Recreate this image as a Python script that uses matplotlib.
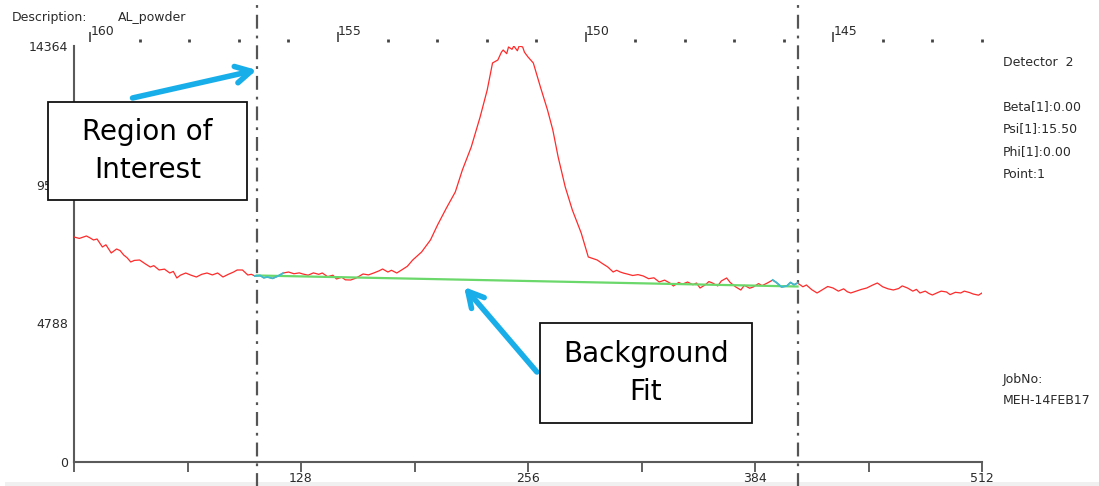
import numpy as np
import matplotlib
matplotlib.use("Agg")
import matplotlib.pyplot as plt
from matplotlib.patches import Rectangle

# detector channel vs counts
channels = [0, 3, 5, 7, 9, 11, 13, 16, 18, 21, 24, 26, 28, 30, 32, 34, 37, 40, 43, 45,
            48, 51, 54, 56, 58, 60, 63, 66, 69, 72, 75, 78, 81, 84, 87, 90, 92, 95, 98, 100,
            102, 105, 107, 109, 112, 115, 118, 121, 124, 127, 129, 132, 135, 138, 140, 143,
            146, 148, 151, 153, 156, 159, 161, 163, 166, 169, 172, 174, 177, 179, 182, 185,
            188, 191, 196, 201, 205, 210, 215, 219, 224, 229, 233, 236, 239, 241, 242, 244,
            245, 247, 248, 250, 251, 253, 254, 256, 259, 263, 267, 270, 273, 277, 281, 286,
            290, 295, 298, 301, 304, 306, 308, 310, 312, 315, 318, 321, 324, 327, 330, 333,
            336, 338, 341, 343, 346, 349, 351, 353, 356, 358, 360, 363, 365, 368, 370, 373,
            376, 378, 381, 383, 386, 388, 391, 394, 396, 399, 402, 404, 406, 408, 411, 413,
            416, 419, 422, 425, 428, 431, 434, 436, 438, 441, 444, 447, 450, 453, 456, 459,
            462, 465, 467, 470, 473, 475, 477, 480, 482, 484, 487, 489, 492, 494, 497, 500,
            502, 505, 507, 510, 512]
counts = [7769, 7720, 7760, 7804, 7740, 7666, 7700, 7424, 7500, 7217, 7355, 7300, 7148, 7050,
          6906, 6960, 6975, 6850, 6733, 6780, 6630, 6660, 6526, 6580, 6354, 6450, 6526, 6450,
          6388, 6480, 6526, 6460, 6526, 6388, 6480, 6560, 6630, 6630, 6457, 6480,
          6423, 6440, 6360, 6388, 6340, 6420, 6526, 6560, 6500, 6530, 6492, 6450, 6530, 6480,
          6526, 6400, 6450, 6319, 6380, 6290, 6284, 6350, 6420, 6492, 6460, 6526, 6600, 6664,
          6560, 6620, 6526, 6640, 6760, 6975, 7251, 7666, 8184, 8770, 9323, 10083, 10877,
          11913, 12845, 13778, 13881, 14150, 14226, 14100, 14330, 14250, 14364, 14200, 14364,
          14330, 14150, 13985, 13778, 12949, 12155, 11464, 10532, 9496, 8702, 7907, 7079,
          6975, 6850, 6733, 6561, 6620, 6561, 6520, 6490, 6440, 6470, 6423, 6330, 6360, 6215,
          6280, 6180, 6077, 6200, 6140, 6215, 6120, 6180, 6008, 6120, 6230, 6181, 6080, 6250,
          6354, 6200, 6050, 5939, 6100, 6000, 6043, 6160, 6090, 6181, 6284, 6200, 6043, 6080,
          6200, 6120, 6181, 6050, 6112, 5950, 5836, 5950, 6060, 6008, 5900, 5980, 5880, 5836,
          5900, 5960, 6008, 6100, 6181, 6050, 5980, 5939, 5990, 6080, 6008, 5900, 5960, 5836,
          5900, 5820, 5767, 5850, 5900, 5870, 5780, 5860, 5836, 5900, 5850, 5801, 5760, 5836]

roi = [103, 408]
bg_counts = [6440, 6060]
y_ticks = [0, 4788, 9576, 14364]
x_ticks = [128, 256, 384, 512]
x_minor = [0, 64, 192, 320, 448]
tt_major = [160, 155, 150, 145]
tt_minor = [159, 158, 157, 156, 154, 153, 152, 151, 149, 148, 147, 146, 144, 143, 142]

W, H = 1099, 486
plt.rcParams['lines.scale_dashes'] = False
fig = plt.figure(figsize=(W / 100, H / 100), dpi=100)
fig.patch.set_facecolor('white')

def px(x, y):
    return x / W, 1 - y / H

ax = fig.add_axes([74 / W, 24 / H, 908 / W, 416 / H])
ax.set_xlim(0, 512)
ax.set_ylim(0, 14364)

ch = np.array(channels)
ct = np.array(counts)
ax.plot(ch, ct, color='#ff2a2a', lw=0.9, zorder=3)
ax.plot(roi, bg_counts, color='#6ad86a', lw=1.6, zorder=4)
m1 = (ch >= roi[0] - 1) & (ch <= roi[0] + 15)
m2 = (ch >= roi[1] - 14) & (ch <= roi[1])
ax.plot(ch[m1], ct[m1], color='#3cbcd0', lw=1.3, zorder=5)
ax.plot(ch[m2], ct[m2], color='#3cbcd0', lw=1.3, zorder=5)

for r in roi:
    ax.axvline(r, ymin=-0.06, ymax=1.13, color='#555555', lw=1.6,
               dashes=(10, 5, 2, 5), clip_on=False, zorder=2)

for s in ['top', 'right']:
    ax.spines[s].set_visible(False)
for s in ['left', 'bottom']:
    ax.spines[s].set_color('#5a5a5a')
    ax.spines[s].set_linewidth(1.5)

txt = '#2a2a2a'
ax.set_yticks(y_ticks)
ax.set_yticklabels([str(v) for v in y_ticks])
ax.tick_params(axis='y', length=0, pad=4, labelsize=9, labelcolor=txt)
ax.set_xticks(x_ticks)
ax.set_xticks(x_minor, minor=True)
ax.tick_params(axis='x', which='both', direction='out', length=7, width=1.3,
               color='#555555', pad=0, labelsize=9, labelcolor=txt)

# 2theta scale on top
def ch2tt(c):
    return 160 - (np.asarray(c) - 9.2) / 27.93

def tt2ch(t):
    return 9.2 + (160 - np.asarray(t)) * 27.93

sec = ax.secondary_xaxis(1.01, functions=(ch2tt, tt2ch))
sec.set_xticks(tt_major)
sec.set_xticklabels([str(t) for t in tt_major])
sec.set_xticks(tt_minor, minor=True)
sec.spines['top'].set_visible(False)
sec.tick_params(which='major', direction='out', length=7, width=1.2, color='#444444',
                pad=-4, labelsize=9, labelcolor=txt)
sec.tick_params(which='minor', direction='out', length=2, width=2, color='#444444')
plt.setp(sec.get_xticklabels(), ha='left')

# header / side texts
fig.text(*px(12, 17), 'Description:', fontsize=9, color=txt, va='center')
fig.text(*px(118, 17), 'AL_powder', fontsize=9, color=txt, va='center')
side = [(62, 'Detector  2'), (107, 'Beta[1]:0.00'), (129, 'Psi[1]:15.50'),
        (152, 'Phi[1]:0.00'), (175, 'Point:1'), (379, 'JobNo:'), (401, 'MEH-14FEB17')]
for y, s in side:
    fig.text(*px(1003, y), s, fontsize=9, color=txt, va='center')

# annotation boxes
def box(x0, y0, x1, y1, lines):
    fig.add_artist(Rectangle(px(x0, y1), (x1 - x0) / W, (y1 - y0) / H,
                             transform=fig.transFigure, facecolor='white',
                             edgecolor='#111111', lw=1.3, zorder=10))
    n = len(lines)
    for i, s in enumerate(lines):
        yc = (y0 + y1) / 2 + (i - (n - 1) / 2) * 37
        fig.text(*px((x0 + x1) / 2, yc), s, fontsize=20, color='black',
                 ha='center', va='center', zorder=11)

box(48, 102, 247, 200, ['Region of', 'Interest'])
box(540, 323, 752, 423, ['Background', 'Fit'])

blue = '#18aeea'
arrowprops = dict(arrowstyle='->,head_length=1.1,head_width=0.6', color=blue, lw=4,
                  shrinkA=0, shrinkB=0)
ax.annotate('', xy=(103, 13536), xytext=(33, 12569), arrowprops=arrowprops,
            annotation_clip=False, zorder=9)
ax.annotate('', xy=(220, 6043), xytext=(261, 3108), arrowprops=arrowprops,
            annotation_clip=False, zorder=9)

fig.add_artist(Rectangle(px(5, 486), (W - 5) / W, 4 / H, transform=fig.transFigure,
                         facecolor='#f0f0f0', edgecolor='none', zorder=0))

fig.savefig('out.png', dpi=100)
